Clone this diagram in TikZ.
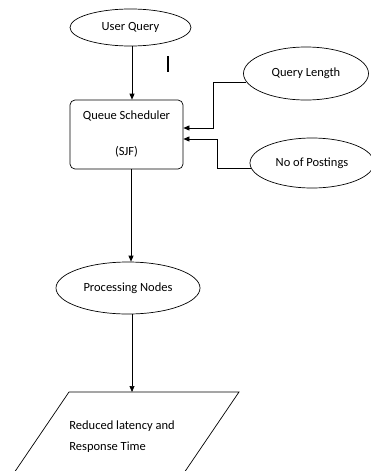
\documentclass[tikz,border=0pt]{standalone}
\usepackage{fontspec}
\setmainfont{Carlito}
\usetikzlibrary{shapes.geometric,arrows.meta}

\begin{document}
\begin{tikzpicture}[x=1pt, y=-1pt, >={Triangle[length=6pt,width=5pt]}, line width=0.7pt,
  oval/.style = {draw, ellipse, inner sep=0pt},
  every node/.style = {font=\fontsize{12.5}{14}\selectfont}]
\useasboundingbox (0,0) rectangle (370,471);
\node[oval, minimum width=121pt, minimum height=37pt] (uq) at (130.5,27.5) {User Query};
\node[draw, rounded corners=5pt, minimum width=113pt, minimum height=69pt, align=center] (qs) at (126.5,134.5) {Queue Scheduler\\[22pt](SJF)};
\node[oval, minimum width=125pt, minimum height=53pt] (ql) at (306,73.5) {Query Length};
\node[oval, minimum width=124pt, minimum height=50pt] (np) at (312,163) {No of Postings};
\node[oval, minimum width=144pt, minimum height=52pt] (pn) at (128,288) {Processing Nodes};
\coordinate (rtop) at (132,392);
\node[anchor=west, align=left, inner sep=0pt] (rl) at (69,436.5) {Reduced latency and\\[7pt]Response Time};

\draw (69,392) -- (239,392) -- (179.2,480) -- (9.2,480) -- cycle;
\draw[line width=1.8pt] (168,56) -- (168,72);

\draw[->] ([xshift=1.5pt]uq.south) -- ([xshift=1.5pt]uq.south |- qs.north);
\draw[->] (ql.188) -- ++(-33,0) |- ([yshift=6.5pt]qs.east);
\draw[->] (np.185) -- ++(-33.5,0) |- ([yshift=-4.5pt]qs.east);
\draw[->] ([xshift=4.5pt]qs.south) -- ([xshift=4.5pt]qs.south |- pn.north);
\draw[->] (pn.south -| rtop) -- (rtop);
\end{tikzpicture}
\end{document}
